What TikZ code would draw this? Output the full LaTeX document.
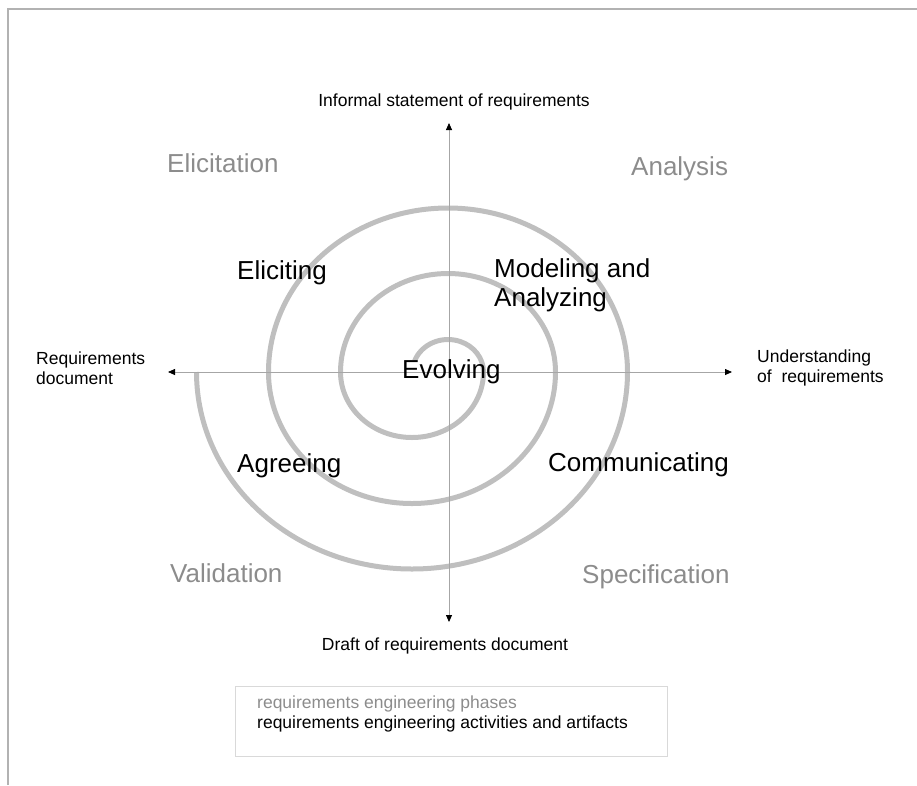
\documentclass[tikz,border=0pt]{standalone}
\usepackage{fontspec}
\setmainfont{Liberation Sans}
\usetikzlibrary{arrows.meta}
\newcommand{\smalltext}{\fontsize{17.5}{20}\selectfont}
\newcommand{\bigtext}{\fontsize{26}{29}\selectfont}

\begin{document}
\begin{tikzpicture}
[x=1pt,y=1pt,
phase/.style={text=black!45,font=\bigtext,inner sep=0pt},
activity/.style={text=black,font=\bigtext,inner sep=0pt,align=left},
artifact/.style={text=black,font=\smalltext,inner sep=0pt,align=left},
spiral/.style={draw=black!25,line width=5pt},
axis/.style={draw=black!35,line width=0.8pt,
  arrows={Triangle[length=7pt,width=6pt,color=black,fill=black]-Triangle[length=7pt,width=6pt,color=black,fill=black]}},
legendbox/.style={draw=black!15,line width=1pt,minimum width=432pt,minimum height=70pt},
frame/.style={draw=black!30,line width=1.5pt}]
\useasboundingbox (0,0) rectangle (917,-785);
\draw[frame] (8,-785) -- (8,-9) -- (917,-9);

% spiral
\coordinate (sc) at (448,-372);
\draw[spiral] (sc) ++(160:35.5 and 32.5)
  arc[start angle=160,end angle=0,x radius=35.5,y radius=32.5]
  arc[start angle=0,end angle=-180,x radius=71.5,y radius=65.5]
  arc[start angle=180,end angle=0,x radius=107.5,y radius=98.5]
  arc[start angle=0,end angle=-180,x radius=143.5,y radius=131.5]
  arc[start angle=180,end angle=0,x radius=179.5,y radius=164]
  arc[start angle=0,end angle=-180,x radius=215.5,y radius=197];

% axes
\coordinate (utip) at (449,-123);
\coordinate (dtip) at (449,-622);
\coordinate (ltip) at (168,-372);
\coordinate (rtip) at (732,-372);
\draw[axis] (dtip) -- (utip);
\draw[axis] (ltip) -- (rtip);

\node[artifact,anchor=base] (informal) at (454,-106) {Informal statement of requirements};
\node[artifact,anchor=base] (draft) at (445,-650) {Draft of requirements document};
\node[artifact,anchor=base west] (reqdoc) at (36,-384) {Requirements\\document};
\node[artifact,anchor=base west] (underst) at (757,-382) {Understanding\\of\ \ requirements};

\node[phase,anchor=base west] (elicitation) at (167,-172) {Elicitation};
\node[phase,anchor=base west] (analysis) at (631,-175) {Analysis};
\node[phase,anchor=base west] (validation) at (170,-582) {Validation};
\node[phase,anchor=base west] (specification) at (582,-583) {Specification};

\node[activity,anchor=base west] (eliciting) at (237,-279) {Eliciting};
\node[activity,anchor=base west] (modeling) at (494,-306) {Modeling and\\Analyzing};
\node[activity,anchor=base west] (evolving) at (402,-378) {Evolving};
\node[activity,anchor=base west] (agreeing) at (237,-472) {Agreeing};
\node[activity,anchor=base west] (communicating) at (548,-471) {Communicating};

% legend
\node[legendbox] (legend) at (451,-721) {};
\node[artifact,text=black!45,anchor=base west] (legphase) at (257,-708) {requirements engineering phases};
\node[artifact,anchor=base west] (legact) at (257,-728) {requirements engineering activities and artifacts};
\end{tikzpicture}
\end{document}
